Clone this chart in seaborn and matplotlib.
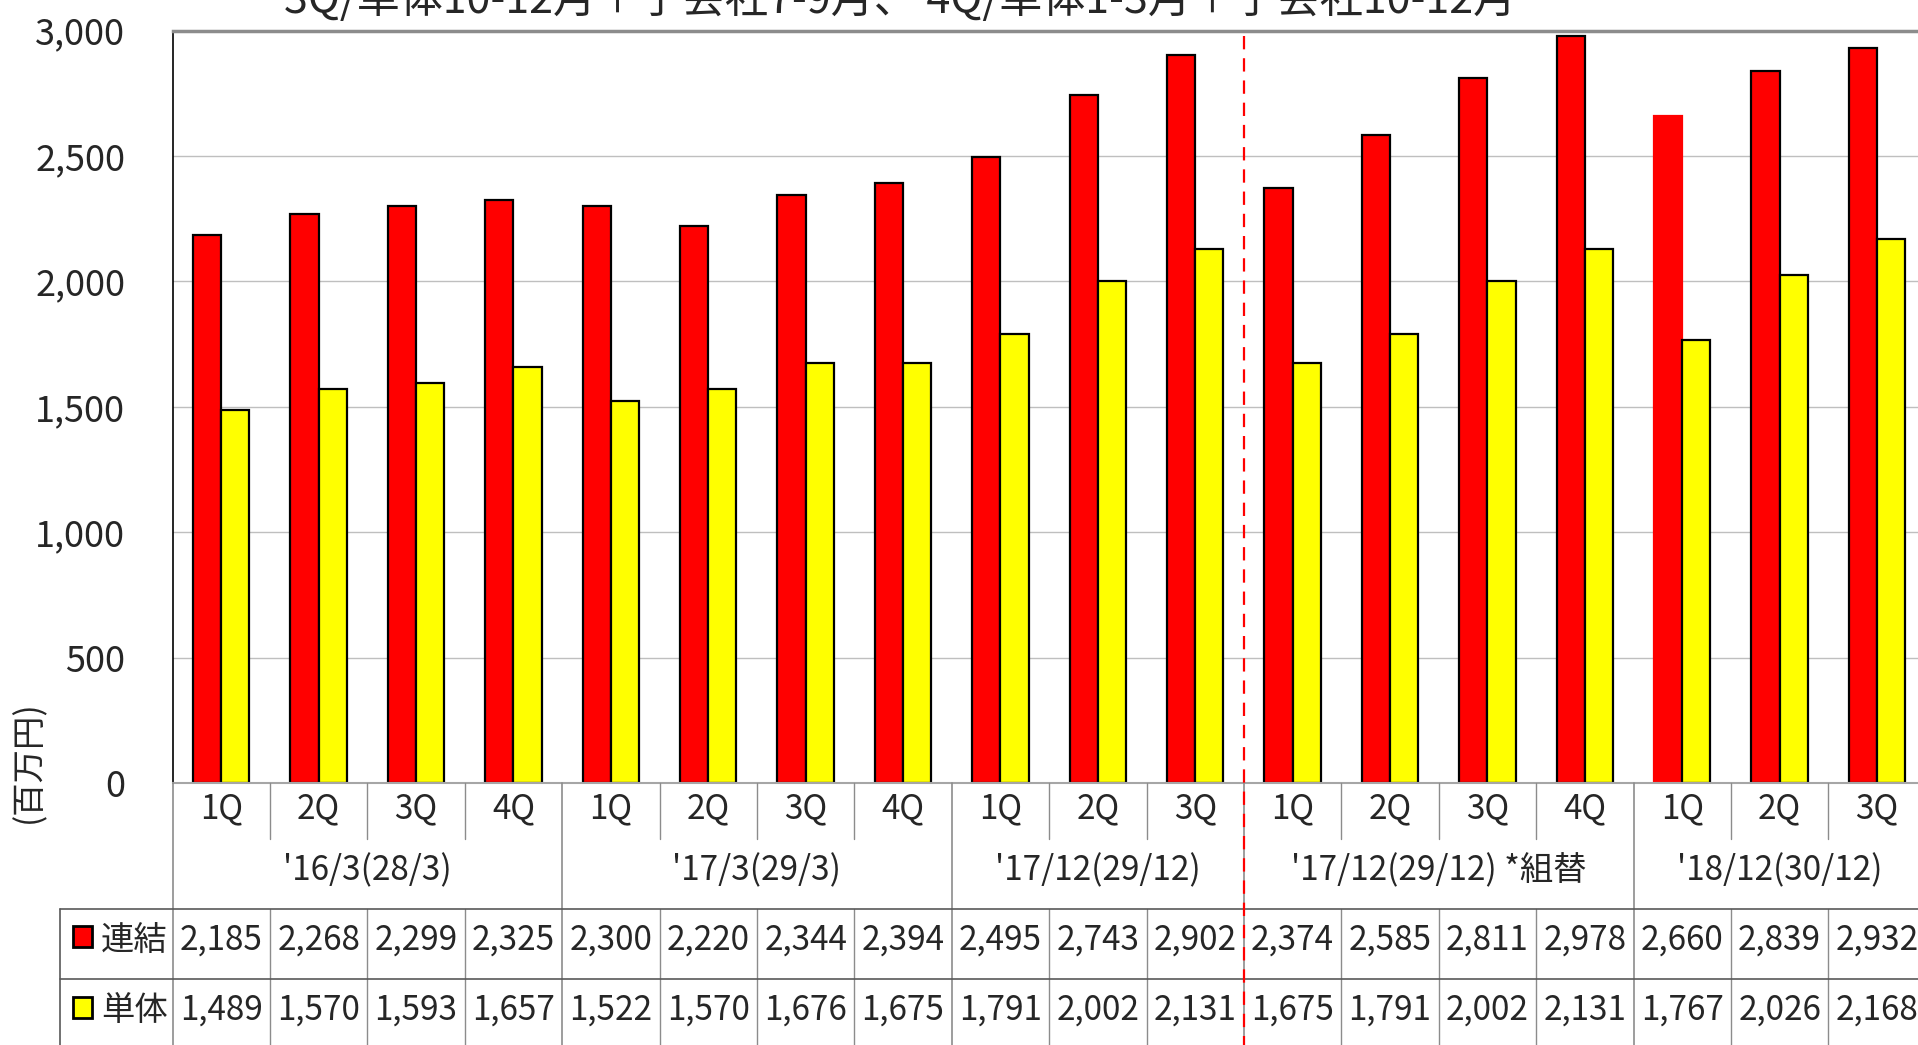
import pandas as pd
import seaborn as sns
import matplotlib.pyplot as plt
import matplotlib.transforms as mtransforms
from matplotlib.patches import Rectangle
from matplotlib.lines import Line2D

# Data
quarters = ["1Q", "2Q", "3Q", "4Q", "1Q", "2Q", "3Q", "4Q", "1Q", "2Q", "3Q",
            "1Q", "2Q", "3Q", "4Q", "1Q", "2Q", "3Q"]
periods = ["'16/3(28/3)", "'17/3(29/3)", "'17/12(29/12)", "'17/12(29/12) *組替", "'18/12(30/12)"]
period_sizes = [4, 4, 3, 4, 3]
renketsu = [2185, 2268, 2299, 2325, 2300, 2220, 2344, 2394, 2495, 2743, 2902,
            2374, 2585, 2811, 2978, 2660, 2839, 2932]
tantai = [1489, 1570, 1593, 1657, 1522, 1570, 1676, 1675, 1791, 2002, 2131,
          1675, 1791, 2002, 2131, 1767, 2026, 2168]
series_names = ["連結", "単体"]
series_colors = ["#FF0000", "#FFFF00"]
title = "3Q/単体10-12月＋子会社7-9月、 4Q/単体1-3月＋子会社10-12月"

W, H = 1918, 1045
FS = 24


def fy(py):
    return 1 - py / H


sns.set_style("white")
plt.rcParams["font.family"] = ["Noto Sans CJK JP", "DejaVu Sans"]

n = len(quarters)
df = pd.DataFrame({
    "pos": list(range(n)) * 2,
    "value": renketsu + tantai,
    "series": [series_names[0]] * n + [series_names[1]] * n,
})

fig = plt.figure(figsize=(W / 100, H / 100), dpi=100)
ax = fig.add_axes([172.5 / W, fy(783), n * 97.4 / W, (783 - 30.6) / H])

sns.barplot(data=df, x="pos", y="value", hue="series", hue_order=series_names,
            palette=dict(zip(series_names, series_colors)), saturation=1,
            width=0.58, edgecolor="black", linewidth=1.6, legend=False, ax=ax)
# the 1Q '18/12 red bar has no black outline in the original
ax.containers[0][15].set_edgecolor("#FF0000")

ax.set_xlim(-0.5, n - 0.5)
ax.set_ylim(0, 3000)
ax.set_yticks(range(0, 3001, 500))
ax.set_yticklabels([f"{v:,}" for v in range(0, 3001, 500)], fontsize=26)
ax.tick_params(axis="y", length=0, pad=34)
ax.set_xticks(range(n))
ax.set_xticklabels(quarters, fontsize=FS)
ax.tick_params(axis="x", length=0, pad=6)
ax.set_xlabel("")
ax.set_ylabel("")
ax.grid(axis="y", color="#BFBFBF", lw=1)
ax.set_axisbelow(True)
ax.spines["right"].set_visible(False)
ax.spines["left"].set_color("black")
ax.spines["left"].set_linewidth(1.2)
ax.spines["top"].set_color("#8C8C8C")
ax.spines["top"].set_linewidth(2.5)
ax.spines["bottom"].set_color("#A6A6A6")
ax.spines["bottom"].set_linewidth(1.5)

bt = mtransforms.blended_transform_factory(ax.transData, fig.transFigure)
grey = "#8C8C8C"

# dividers below the axis
bounds = []
acc = 0
for s in period_sizes:
    acc += s
    bounds.append(acc)
for i in range(0, n):
    x = i - 0.5
    if i == 0 or i in bounds:
        fig.add_artist(Line2D([x, x], [fy(783), 0], transform=bt, color=grey, lw=1.2))
    else:
        fig.add_artist(Line2D([x, x], [fy(783), fy(839)], transform=bt, color=grey, lw=1))
        fig.add_artist(Line2D([x, x], [fy(909), 0], transform=bt, color=grey, lw=1))

# table row lines
for py in [909, 979]:
    fig.add_artist(Line2D([60 / W, 1], [fy(py), fy(py)], transform=fig.transFigure,
                          color="#595959", lw=1.2))
fig.add_artist(Line2D([60 / W, 60 / W], [fy(909), 0], transform=fig.transFigure,
                      color="#595959", lw=1.2))

# period labels
start = 0
for label, s in zip(periods, period_sizes):
    center = start + (s - 1) / 2
    fig.text(center, fy(880), label, transform=bt, ha="center", va="baseline", fontsize=FS)
    start += s

# value rows
for row, (vals, name, color, base, top) in enumerate(
        zip([renketsu, tantai], series_names, series_colors, [950, 1020], [926, 997])):
    for i, v in enumerate(vals):
        fig.text(i, fy(base), f"{v:,}", transform=bt, ha="center", va="baseline", fontsize=FS)
    fig.add_artist(Rectangle((73 / W, fy(top + 21)), 19 / W, 21 / H, transform=fig.transFigure,
                             facecolor=color, edgecolor="black", lw=2))
    fig.text(101 / W, fy(base), name, ha="left", va="baseline", fontsize=FS)

# dashed separator
fig.add_artist(Line2D([10.5, 10.5], [fy(36), 0], transform=bt, color="#FF0000",
                      lw=1.6, dashes=(6, 4), zorder=5))

fig.text(29 / W, fy(762), "(百万円)", rotation=90, ha="center", va="center", fontsize=FS)
fig.text(900 / W, fy(13), title, ha="center", va="baseline", fontsize=31)

fig.savefig("out.png", dpi=100)
